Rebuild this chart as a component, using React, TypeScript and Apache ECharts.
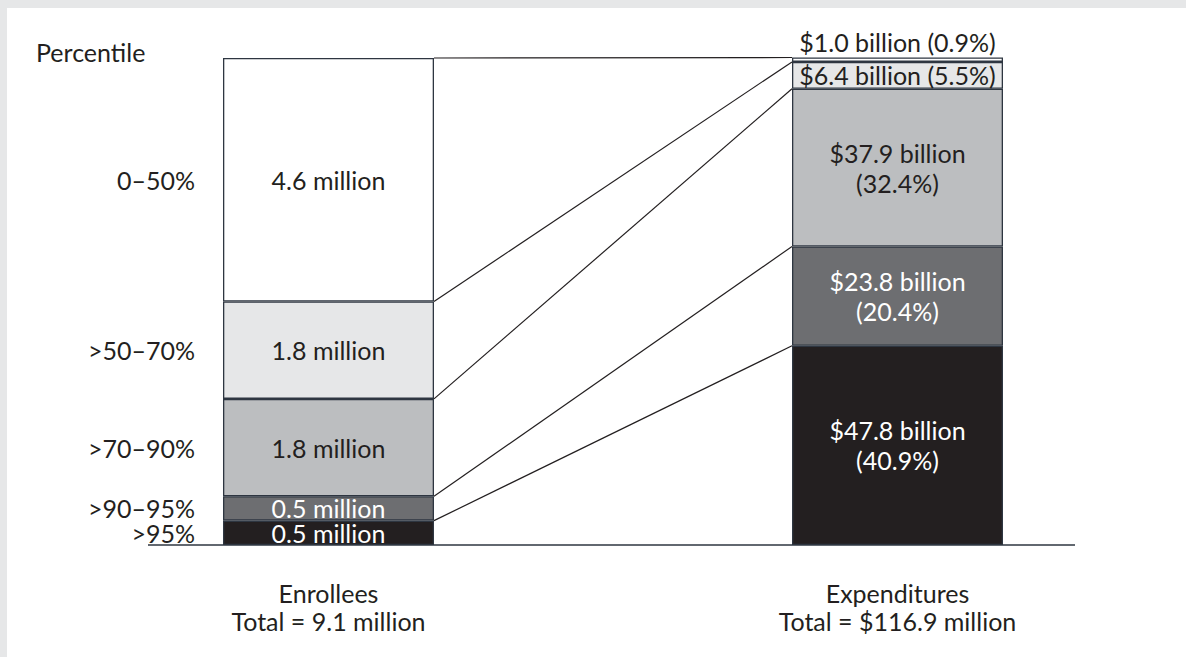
import React, { useEffect, useRef } from 'react';
import * as echarts from 'echarts';

// ---- data ----
const categories = ['Enrollees\nTotal = 9.1 million', 'Expenditures\nTotal = $116.9 million'];
const groups = ['>95%', '>90–95%', '>70–90%', '>50–70%', '0–50%'];
const enrolleeShare = [5, 5, 20, 20, 50];
const enrolleeLabels = ['0.5 million', '0.5 million', '1.8 million', '1.8 million', '4.6 million'];
const expenditureShare = [40.9, 20.4, 32.4, 5.5, 0.9];
const expenditureLabels = [
  '$47.8 billion\n(40.9%)',
  '$23.8 billion\n(20.4%)',
  '$37.9 billion\n(32.4%)',
  '$6.4 billion (5.5%)',
  '$1.0 billion (0.9%)',
];

// ---- styles ----
const FONT = 'Lato, "Noto Sans", sans-serif';
const FS = 25;
const INK = '#231f20';
const EDGE = '#2e3641';
const fills = ['#231f20', '#6d6e71', '#bcbec0', '#e6e7e8', '#ffffff'];
const labelInk = ['#ffffff', '#ffffff', INK, INK, INK];
const BAR_W = 211;

function cumulative(a: number[]) {
  let s = 0;
  return a.map((v) => (s += v));
}
const leftCum = cumulative(enrolleeShare);
const rightCum = cumulative(expenditureShare);

export default function App() {
  const ref = useRef<HTMLDivElement>(null);
  useEffect(() => {
    if (!ref.current) return;
    const chart = echarts.init(ref.current, undefined, { renderer: 'svg' });
    const barSeries = groups.map((g, i) => ({
      type: 'bar',
      name: g,
      stack: 'total',
      barWidth: BAR_W,
      silent: true,
      itemStyle: { color: fills[i], borderColor: EDGE, borderWidth: 1.3 },
      label: {
        show: true,
        position: 'inside',
        color: labelInk[i],
        fontSize: FS,
        fontFamily: FONT,
        lineHeight: 30,
        formatter: (p: any) => (p.dataIndex === 0 ? enrolleeLabels[i] : expenditureLabels[i]),
      },
      data: [
        enrolleeShare[i],
        expenditureShare[i] < 2
          ? { value: expenditureShare[i], label: { position: 'top', distance: 1, color: INK } }
          : expenditureShare[i],
      ],
    }));
    const connectors = {
      type: 'custom',
      silent: true,
      z: 5,
      data: leftCum.map((c) => [0, c]),
      renderItem: (params: any, api: any) => {
        const i = params.dataIndex;
        const a = api.coord([0, leftCum[i]]);
        const b = api.coord([1, rightCum[i]]);
        return {
          type: 'line',
          shape: { x1: a[0] + BAR_W / 2, y1: a[1], x2: b[0] - BAR_W / 2, y2: b[1] },
          style: { stroke: INK, lineWidth: 1.2 },
        };
      },
    };
    const groupLabels = {
      type: 'custom',
      silent: true,
      z: 5,
      data: groups.map((g, i) => [0, leftCum[i] - enrolleeShare[i] / 2]),
      renderItem: (params: any, api: any) => {
        const i = params.dataIndex;
        const p = api.coord([0, leftCum[i] - enrolleeShare[i] / 2]);
        return {
          type: 'text',
          x: p[0] - BAR_W / 2 - 28,
          y: p[1],
          style: {
            text: groups[i],
            align: 'right',
            verticalAlign: 'middle',
            fill: INK,
            fontSize: FS,
            fontFamily: FONT,
          },
        };
      },
    };
    chart.setOption({
      animation: false,
      grid: { left: 37, right: 4, top: 50, bottom: 112 },
      xAxis: {
        type: 'category',
        data: categories,
        axisLine: { show: false },
        axisTick: { show: false },
        axisLabel: { color: INK, fontSize: FS, fontFamily: FONT, lineHeight: 28, margin: 34 },
      },
      yAxis: { type: 'value', min: 0, max: 100, show: false },
      graphic: [
        {
          id: 'ptitle',
          type: 'text',
          x: 29,
          y: 44,
          style: { text: 'Percentile', fill: INK, fontSize: FS, fontFamily: FONT, verticalAlign: 'middle' },
        },
      ],
      series: [...barSeries, connectors, groupLabels],
    });
    const y0 = chart.convertToPixel({ yAxisIndex: 0 }, 0) as number;
    chart.setOption({
      graphic: [
        {
          id: 'baseline',
          type: 'line',
          z: 100,
          shape: { x1: 141, y1: y0, x2: 1068, y2: y0 },
          style: { stroke: EDGE, lineWidth: 1.3 },
        },
      ],
    });
    return () => chart.dispose();
  }, []);
  return (
    <div style={{ position: 'fixed', left: 0, top: 0, width: 1186, height: 657, background: '#e6e7e8' }}>
      <div
        ref={ref}
        style={{ position: 'absolute', left: 7, top: 8, width: 1179, height: 649, background: '#ffffff' }}
      />
    </div>
  );
}
